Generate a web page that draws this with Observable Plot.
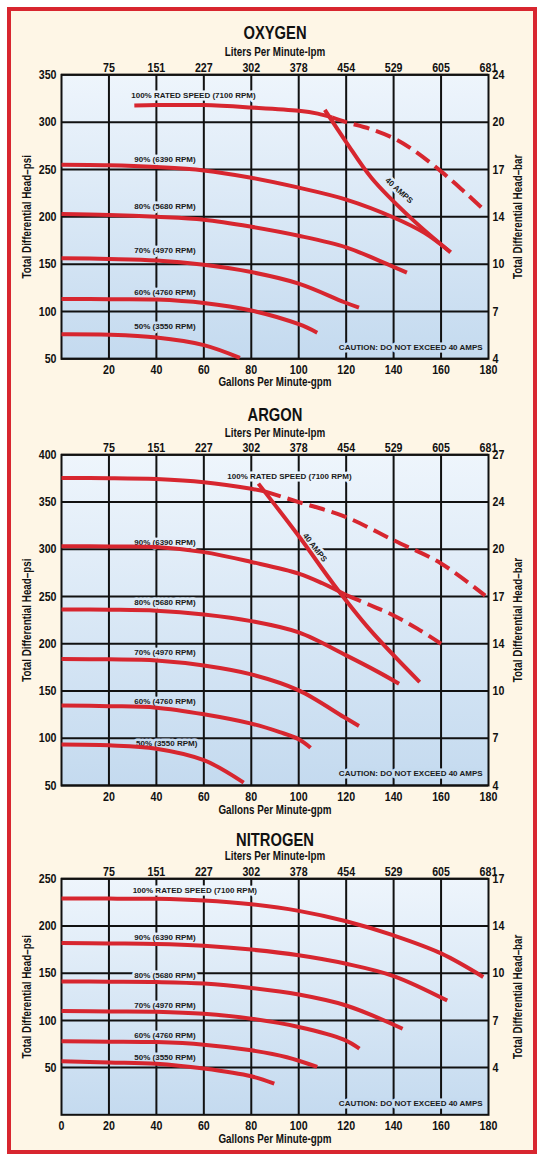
<!DOCTYPE html>
<html><head><meta charset="utf-8">
<script src="https://cdn.jsdelivr.net/npm/d3@7"></script>
<script src="https://cdn.jsdelivr.net/npm/@observablehq/plot@0.6"></script>
<style>
html,body{margin:0;padding:0;background:#fff;}
#page{position:relative;width:538px;height:1154px;overflow:hidden;}
#border{position:absolute;left:7px;top:7px;width:530px;height:1147px;box-sizing:border-box;border:4px solid #D8262F;background:#FEF6E6;}
#page svg{position:absolute;left:0;}
</style></head><body><div id="page"><div id="border"></div></div>
<script>
// ---------- shared tick data ----------
const gpmTicks = [20, 40, 60, 80, 100, 120, 140, 160, 180];
const gpmTicksN = [0, 20, 40, 60, 80, 100, 120, 140, 160, 180];
const gpmGrid = [20, 40, 60, 80, 100, 120, 140, 160];
const lpmLabels = ["75", "151", "227", "302", "378", "454", "529", "605", "681"];

// ---------- OXYGEN ----------
const oxygenPsiTicks = [50, 100, 150, 200, 250, 300, 350];
const oxygenBarLabels = ["4", "7", "10", "14", "17", "20", "24"];
const oxygen100 = [[30.7,317.5],[40,318],[60,318],[80,315.5],[100,312],[108,309],[114,305]];
const oxygen100Dashed = [[114,305],[120,300],[130,293],[140,283],[148,271],[160,248],[170,226],[177.8,208]];
const oxygen90 = [[0,255],[20,254.5],[40,252.6],[60,249],[80,241.3],[100,230.8],[120,218.2],[140,199.3],[153,183],[164,162.6]];
const oxygen80 = [[0,203],[20,202],[40,200],[60,196.9],[80,189.5],[100,180],[120,167.8],[133.6,154],[145.6,141]];
const oxygen70 = [[0,156.3],[20,155.5],[40,153.9],[60,149.3],[80,141.6],[100,129.4],[119,110],[125.4,104]];
const oxygen60 = [[0,113.3],[20,113],[40,112.6],[60,109],[80,101],[100,86.5],[107.8,77.6]];
const oxygen50 = [[0,76],[20,75.5],[40,72.6],[60,64.5],[75.2,51]];
const oxygen40Amps = [[111,313],[120,279],[130.7,241],[148,197],[164,162.6]];

// ---------- ARGON ----------
const argonPsiTicks = [50, 100, 150, 200, 250, 300, 350, 400];
const argonBarLabels = ["4", "7", "10", "14", "17", "20", "24", "27"];
const argon100 = [[0,375.4],[20,375.3],[40,374.3],[60,371],[80,364],[86,361]];
const argon100Dashed = [[86,361],[100,350],[120,334],[140,309.5],[160,285],[178.6,251]];
const argon90 = [[0,303.2],[20,303],[40,302.5],[60,297],[80,286.6],[100,274.3],[110,264],[120,251.5]];
const argon90Dashed = [[120,251.5],[130,241],[140,230],[150,216],[160,200]];
const argon80 = [[0,236.3],[20,236],[40,235],[60,231],[80,224],[100,212],[120,187.7],[133.6,170],[142.3,157.7]];
const argon70 = [[0,183.8],[20,183.5],[40,182.4],[60,177],[80,167.6],[100,150.7],[119,122.5],[125.4,113]];
const argon60 = [[0,134.8],[20,134],[40,132.4],[60,125.4],[80,115.5],[92,106.5],[100,99],[105,90]];
const argon50 = [[0,93.3],[20,92.5],[40,89],[60,76.8],[76.8,53]];
const argon40Amps = [[83,369.5],[100,314],[115,262],[130,215],[151,159.5]];

// ---------- NITROGEN ----------
const nitrogenPsiTicks = [50, 100, 150, 200, 250];
const nitrogenBarLabels = ["4", "7", "10", "14", "17"];
const nitrogen100 = [[0,229.2],[20,229],[40,228.8],[60,227],[80,223],[100,216],[120,205],[140,190],[160,171],[177.8,146]];
const nitrogen90 = [[0,182],[20,181.5],[40,181],[60,179],[80,175],[100,169],[120,160],[140,147],[162.6,121]];
const nitrogen80 = [[0,141.3],[20,141],[40,140.6],[60,139],[80,134.4],[100,127.4],[120,115.8],[143.8,91.2]];
const nitrogen70 = [[0,109.9],[20,109.5],[40,109.2],[60,107],[80,101.8],[100,93],[119,79.6],[125.6,70]];
const nitrogen60 = [[0,77.8],[20,77.5],[40,77],[60,74.3],[80,68.3],[95,61],[107.8,50.7]];
const nitrogen50 = [[0,56.7],[20,55.5],[40,54.2],[60,49],[80,40.8],[89.7,33]];

// ---------- label texts ----------
const speedTexts = ["100% RATED SPEED (7100 RPM)", "90% (6390 RPM)", "80% (5680 RPM)", "70% (4970 RPM)", "60% (4760 RPM)", "50% (3550 RPM)"];
const cautionText = "CAUTION: DO NOT EXCEED 40 AMPS";
const ampsText = "40 AMPS";

// annotation anchors (gpm, psi)
const oxygenSpeedAnchors = [[29.4,328],[30.7,260.2],[30.7,211],[30.7,164.5],[30.7,120],[30.7,84]];
const argonSpeedAnchors = [[69.9,377],[30.7,307.5],[30.7,243.4],[30.7,191.1],[30.7,139],[31.4,94.2]];
const nitrogenSpeedAnchors = [[30,237.6],[30.7,188],[30.7,147.4],[30.7,115.6],[30.7,84.6],[30.7,60.9]];

// ---------- style ----------
const RED = "#D7262F";
const INK = "#111";
const BG_TOP = "#EEF5FC";
const BG_BOTTOM = "#C4DAEF";
const NARROW = "Liberation Sans, Arial, sans-serif";   // condensed by post-scaling
const SANS = "'Liberation Sans',Arial,sans-serif";
const CONDENSE = 0.82;

function drawPanel(cfg) {
  const [y0, y1] = cfg.yDomain;
  const halo = psi => d3.interpolateRgb(BG_TOP, BG_BOTTOM)(Math.max(0, Math.min(1, (y1 - psi) / (y1 - y0))));
  const line = (data, extra = {}) => Plot.line(data, {x: d => d[0], y: d => d[1], stroke: RED, strokeWidth: 4, curve: "catmull-rom", strokeLinecap: "butt", strokeLinejoin: "round", ...extra});
  const speedLabels = speedTexts.map((t, i) => ({text: t, gpm: cfg.speedAnchors[i][0], psi: cfg.speedAnchors[i][1]}));
  const labelStyle = {fontFamily: SANS, fontSize: 8, fontWeight: "bold", fill: "#1a1a1a", strokeWidth: 5, strokeLinejoin: "round", paintOrder: "stroke"};
  const marks = [
    Plot.frame({fill: `url(#${cfg.id}-bg)`}),
    Plot.ruleX(gpmGrid, {stroke: INK, strokeWidth: 2}),
    Plot.ruleY(cfg.psiTicks, {stroke: INK, strokeWidth: 2}),
    Plot.frame({stroke: INK, strokeWidth: 2}),
    Plot.text(speedLabels, {x: "gpm", y: "psi", text: "text", textAnchor: "start", stroke: d => halo(d.psi), ...labelStyle}),
    Plot.text([{text: cautionText, gpm: 177.5, psi: cfg.cautionPsi}], {x: "gpm", y: "psi", text: "text", textAnchor: "end", stroke: d => halo(d.psi), ...labelStyle}),
  ];
  if (cfg.amps) {
    marks.push(Plot.text([{text: ampsText, gpm: cfg.ampsAnchor[0], psi: cfg.ampsAnchor[1]}], {x: "gpm", y: "psi", text: "text", rotate: cfg.ampsRotate, textAnchor: "middle", stroke: d => halo(d.psi), ...labelStyle}));
  }
  for (const c of cfg.solid) marks.push(line(c));
  for (const c of cfg.dashed) marks.push(line(c, {strokeDasharray: "16,7"}));
  if (cfg.amps) marks.push(line(cfg.amps));
  const tickFont = {fontFamily: NARROW, fontSize: 13, fontWeight: "bold", fill: "#111"};
  const capFont = {fontFamily: NARROW, fontSize: 12, fontWeight: "bold", fill: "#111", lineAnchor: "middle", textAnchor: "middle"};
  marks.push(
    Plot.axisX({anchor: "bottom", ticks: cfg.xTicks, tickSize: 0, tickPadding: cfg.bottomTickPad, lineAnchor: "middle", tickFormat: d => String(d), label: null, ...tickFont}),
    Plot.axisX({anchor: "top", ticks: gpmTicks, tickSize: 0, tickPadding: 7.3, lineAnchor: "middle", tickFormat: d => lpmLabels[gpmTicks.indexOf(d)], label: null, ...tickFont}),
    Plot.axisY({anchor: "left", ticks: cfg.psiTicks, tickSize: 0, tickPadding: 5, tickFormat: d => String(d), label: null, ...tickFont}),
    Plot.axisY({anchor: "right", ticks: cfg.psiTicks, tickSize: 0, tickPadding: 4, tickFormat: d => cfg.barLabels[cfg.psiTicks.indexOf(d)], label: null, ...tickFont}),
    Plot.text([cfg.title], {frameAnchor: "top", dy: -cfg.titleOff, ...capFont, fontSize: 18}),
    Plot.text(["Liters Per Minute-lpm"], {frameAnchor: "top", dy: -cfg.lpmOff, ...capFont}),
    Plot.text(["Gallons Per Minute-gpm"], {frameAnchor: "bottom", dy: cfg.gpmOff, ...capFont}),
    Plot.text(["Total Differential Head\u2013psi"], {frameAnchor: "left", dx: -34, rotate: -90, ...capFont}),
    Plot.text(["Total Differential Head\u2013bar"], {frameAnchor: "right", dx: 30, rotate: -90, ...capFont})
  );
  const svg = Plot.plot({
    width: 538,
    height: cfg.mt + cfg.frameH + cfg.mb,
    marginLeft: 61, marginRight: 50, marginTop: cfg.mt, marginBottom: cfg.mb,
    x: {domain: [0, 180], axis: null},
    y: {domain: cfg.yDomain, axis: null},
    color: {type: "identity"},
    style: {background: "transparent", overflow: "visible", fontFamily: SANS},
    marks
  });
  const defs = d3.select(svg).insert("defs", ":first-child");
  const g = defs.append("linearGradient").attr("id", cfg.id + "-bg").attr("x1", 0).attr("y1", 0).attr("x2", 0).attr("y2", 1);
  g.append("stop").attr("offset", "0%").attr("stop-color", BG_TOP);
  g.append("stop").attr("offset", "100%").attr("stop-color", BG_BOTTOM);
  // condense the Helvetica-Condensed-style texts
  d3.select(svg).selectAll("g").filter(function () { return this.getAttribute("font-family") === NARROW; })
    .selectAll("text").each(function () {
      const t = this.getAttribute("transform") || "";
      this.setAttribute("transform", t + ` scale(${CONDENSE},1)`);
    });
  svg.style.top = cfg.top + "px";
  document.getElementById("page").appendChild(svg);
}

drawPanel({
  id: "oxy", title: "OXYGEN", top: 11, mt: 63.3, frameH: 284, mb: 44.7,
  yDomain: [50, 350], psiTicks: oxygenPsiTicks, barLabels: oxygenBarLabels, xTicks: gpmTicks,
  solid: [oxygen100, oxygen90, oxygen80, oxygen70, oxygen60, oxygen50], dashed: [oxygen100Dashed],
  amps: oxygen40Amps, ampsAnchor: [142.3, 227.8], ampsRotate: 42,
  speedAnchors: oxygenSpeedAnchors, cautionPsi: 62,
  titleOff: 41.3, lpmOff: 22.3, bottomTickPad: 10.7, gpmOff: 23.7
});
drawPanel({
  id: "arg", title: "ARGON", top: 403, mt: 51.3, frameH: 330.7, mb: 45,
  yDomain: [50, 400], psiTicks: argonPsiTicks, barLabels: argonBarLabels, xTicks: gpmTicks,
  solid: [argon100, argon90, argon80, argon70, argon60, argon50], dashed: [argon100Dashed, argon90Dashed],
  amps: argon40Amps, ampsAnchor: [106.8, 301.8], ampsRotate: 52,
  speedAnchors: argonSpeedAnchors, cautionPsi: 62.4,
  titleOff: 39.3, lpmOff: 21.3, bottomTickPad: 11, gpmOff: 25
});
drawPanel({
  id: "nit", title: "NITROGEN", top: 830, mt: 48.3, frameH: 236, mb: 35.7,
  yDomain: [0, 250], psiTicks: nitrogenPsiTicks, barLabels: nitrogenBarLabels, xTicks: gpmTicksN,
  solid: [nitrogen100, nitrogen90, nitrogen80, nitrogen70, nitrogen60, nitrogen50], dashed: [],
  amps: null,
  speedAnchors: nitrogenSpeedAnchors, cautionPsi: 12.4,
  titleOff: 38.3, lpmOff: 22.3, bottomTickPad: 10.7, gpmOff: 24.7
});
</script>
</body></html>
